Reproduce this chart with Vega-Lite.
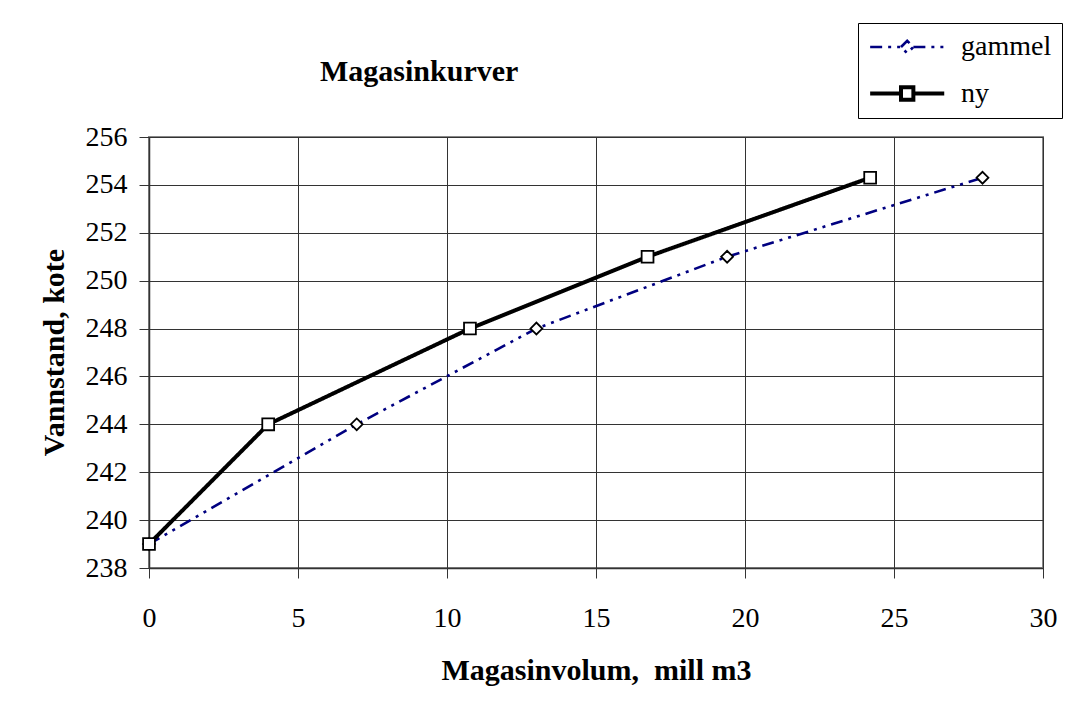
{
  "$schema": "https://vega.github.io/schema/vega-lite/v6.json",
  "width": 894,
  "height": 431,
  "autosize": {"type": "none"},
  "padding": {"left": 149, "top": 137, "right": 46, "bottom": 141},
  "background": "white",
  "title": {
    "text": "Magasinkurver",
    "anchor": "start",
    "frame": "group",
    "dx": 171,
    "font": "Liberation Serif",
    "fontSize": 30,
    "fontWeight": "bold",
    "color": "black",
    "baseline": "alphabetic",
    "offset": -88
  },
  "config": {
    "view": {"stroke": "#888888", "strokeWidth": 2},
    "axis": {
      "labelFont": "Liberation Serif",
      "labelFontSize": 28,
      "labelColor": "black",
      "labelFlush": false,
      "titleFont": "Liberation Serif",
      "titleFontSize": 30,
      "titleFontWeight": "bold",
      "titleColor": "black",
      "tickSize": 10,
      "tickColor": "#333333",
      "domainColor": "#333333",
      "domainWidth": 1.5,
      "gridColor": "#333333",
      "gridWidth": 1,
      "gridOpacity": 1
    },
    "legend": {
      "orient": "none",
      "legendX": 709,
      "legendY": -114,
      "strokeColor": "black",
      "fillColor": "white",
      "padding": 10,
      "symbolSize": 610,
      "labelOffset": 64,
      "labelFont": "Liberation Serif",
      "labelFontSize": 28,
      "labelColor": "black",
      "rowPadding": 18
    }
  },
  "data": {
    "values": [
      {"series": "gammel", "volum": 0, "kote": 239},
      {"series": "gammel", "volum": 6.97, "kote": 244},
      {"series": "gammel", "volum": 13.0, "kote": 248},
      {"series": "gammel", "volum": 19.4, "kote": 251},
      {"series": "gammel", "volum": 27.97, "kote": 254.3},
      {"series": "ny", "volum": 0, "kote": 239},
      {"series": "ny", "volum": 4.0, "kote": 244},
      {"series": "ny", "volum": 10.77, "kote": 248},
      {"series": "ny", "volum": 16.73, "kote": 251},
      {"series": "ny", "volum": 24.2, "kote": 254.3}
    ]
  },
  "encoding": {
    "x": {
      "field": "volum",
      "type": "quantitative",
      "scale": {"domain": [0, 30], "nice": false},
      "axis": {
        "values": [0, 5, 10, 15, 20, 25, 30],
        "title": "Magasinvolum,\u00a0 mill m3",
        "labelPadding": 48,
        "labelBaseline": "alphabetic",
        "titleY": 111,
        "titleBaseline": "alphabetic"
      }
    },
    "y": {
      "field": "kote",
      "type": "quantitative",
      "scale": {"domain": [238, 256], "nice": false, "zero": false},
      "axis": {
        "values": [238, 240, 242, 244, 246, 248, 250, 252, 254, 256],
        "title": "Vannstand, kote",
        "labelPadding": 12,
        "titleX": -86,
        "titleY": 215,
        "titleAngle": -90,
        "titleAlign": "center",
        "titleBaseline": "alphabetic"
      }
    }
  },
  "layer": [
    {
      "mark": {"type": "point", "filled": false, "opacity": 1, "strokeWidth": 1, "size": 1},
      "encoding": {
        "shape": {
          "field": "series",
          "type": "nominal",
          "scale": {
            "domain": ["gammel", "ny"],
            "range": [
              "M-1,0H1.5M1.5,0L2,-0.5L2.5,0L2,0.5ZM2.5,0H5",
              "M-1,0H1.5M1.5,-0.5H2.5V0.5H1.5ZM2.5,0H5"
            ]
          },
          "legend": {
            "title": null,
            "orient": "none",
            "legendX": 709,
            "legendY": -114,
            "encode": {
              "symbols": {"update": {"size": {"value": 610}, "fill": {"value": "white"}}}
            }
          }
        },
        "color": {"field": "series", "type": "nominal"},
        "strokeDash": {"field": "series", "type": "nominal"}
      }
    },
    {
      "mark": {"type": "line"},
      "encoding": {
        "color": {
          "field": "series",
          "type": "nominal",
          "scale": {"domain": ["gammel", "ny"], "range": ["#000080", "#000000"]}
        },
        "strokeDash": {
          "field": "series",
          "type": "nominal",
          "scale": {"domain": ["gammel", "ny"], "range": [[12, 6, 3, 6, 3, 6], [1, 0]]}
        },
        "strokeWidth": {
          "field": "series",
          "type": "nominal",
          "scale": {"domain": ["gammel", "ny"], "range": [2.6, 4]}
        }
      }
    },
    {
      "transform": [{"filter": "datum.series == 'gammel'"}],
      "mark": {"type": "point", "shape": "diamond", "filled": true, "fill": "white", "stroke": "black", "strokeWidth": 1.8, "size": 140, "opacity": 1}
    },
    {
      "transform": [{"filter": "datum.series == 'ny'"}],
      "mark": {"type": "point", "shape": "square", "filled": true, "fill": "white", "stroke": "black", "strokeWidth": 1.8, "size": 140, "opacity": 1}
    }
  ]
}
